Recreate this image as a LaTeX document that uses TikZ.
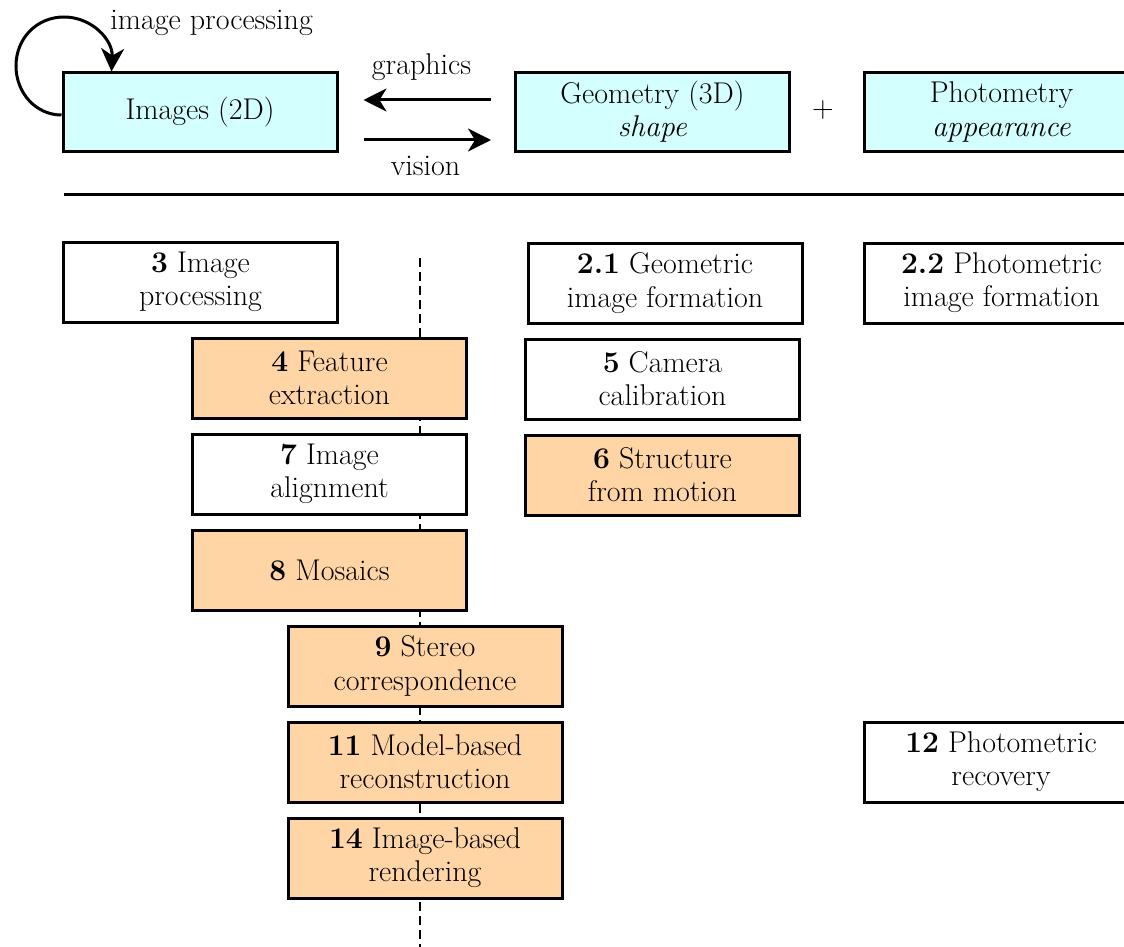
\documentclass[tikz,border=0pt]{standalone}
\usepackage{fontspec}
\setmainfont{Latin Modern Roman}
\usetikzlibrary{arrows.meta,calc}
\definecolor{boxcyan}{RGB}{212,255,255}
\definecolor{boxpeach}{RGB}{255,213,166}

\begin{document}
\begin{tikzpicture}[x=0.5pt,y=-0.5pt,
  every node/.style={font=\fontsize{15}{16.6}\selectfont},
  chap/.style={draw=black, line width=1.5pt, minimum width=137pt,
    minimum height=40pt, align=center, inner sep=0pt, fill=white},
  topbox/.style={chap, minimum height=39pt, fill=boxcyan},
  hot/.style={chap, fill=boxpeach},
  arr/.style={line width=1.5pt,
    -{Stealth[length=11.5pt,width=11.5pt,inset=3.5pt]}},
  lbl/.style={inner sep=0pt, anchor=base},
  guide/.style={line width=0.8pt, dash pattern=on 4.5pt off 2.5pt},
]
\useasboundingbox (0,0) rectangle (1124,947);
\clip (0,0) rectangle (1124,947);

% top row: the three domains
\node[topbox] (img) at (200,112) {Images (2D)};
\node[topbox] (geo) at (652.5,112) {Geometry (3D)\\\textit{shape}};
\node[topbox] (pho) at (1001.5,112) {Photometry\\\textit{appearance}};
\node (plus) at (823,110) {+};

% self loop: image processing
\coordinate (loopend) at ($(img.north west)+(50,0)$);
\draw[arr] ([yshift=-1.5pt]img.west)
  .. controls (36,115) and (16,93) .. (16,66)
  .. controls (16,38) and (37,17) .. (64,17)
  .. controls (92,17) and (113,40) .. (loopend);
\node[lbl, anchor=base west] (ipr) at (110,30) {image processing};

% graphics / vision
\draw[arr, shorten <=11.5pt, shorten >=12.5pt]
  ([yshift=6pt]geo.west) -- ([yshift=6pt]img.east);
\draw[arr, shorten <=12.5pt, shorten >=11.5pt]
  ([yshift=-14pt]img.east) -- ([yshift=-14pt]geo.west);
\node[lbl] (gfx) at (421.5,75) {graphics};
\node[lbl] (vis) at (425.5,176) {vision};

% separator
\coordinate (rulel) at (64,194);
\coordinate (ruler) at (1130,194);
\draw[line width=1.5pt] (rulel) -- (ruler);

% dashed guide behind the chapter boxes
\coordinate (dtop) at (420,258);
\coordinate (dbot) at (420,952);
\draw[guide] (dtop) -- (dbot);

% chapters
\node[chap] (c3)  at (200.5,282) {\textbf{3} Image\\processing};
\node[chap] (c21) at (665,283)   {\textbf{2.1} Geometric\\image formation};
\node[chap] (c22) at (1001.5,283){\textbf{2.2} Photometric\\image formation};
\node[hot]  (c4)  at (329.5,378) {\textbf{4} Feature\\extraction};
\node[chap] (c5)  at (662.5,379) {\textbf{5} Camera\\calibration};
\node[chap] (c7)  at (329.5,474) {\textbf{7} Image\\alignment};
\node[hot]  (c6)  at (662.5,475) {\textbf{6} Structure\\from motion};
\node[hot]  (c8)  at (329.5,570) {\textbf{8} Mosaics};
\node[hot]  (c9)  at (425,666)   {\textbf{9} Stereo\\correspondence};
\node[hot]  (c11) at (425,762)   {\textbf{11} Model-based\\reconstruction};
\node[chap] (c12) at (1001,762)  {\textbf{12} Photometric\\recovery};
\node[hot]  (c14) at (425,858)   {\textbf{14} Image-based\\rendering};
\end{tikzpicture}
\end{document}
